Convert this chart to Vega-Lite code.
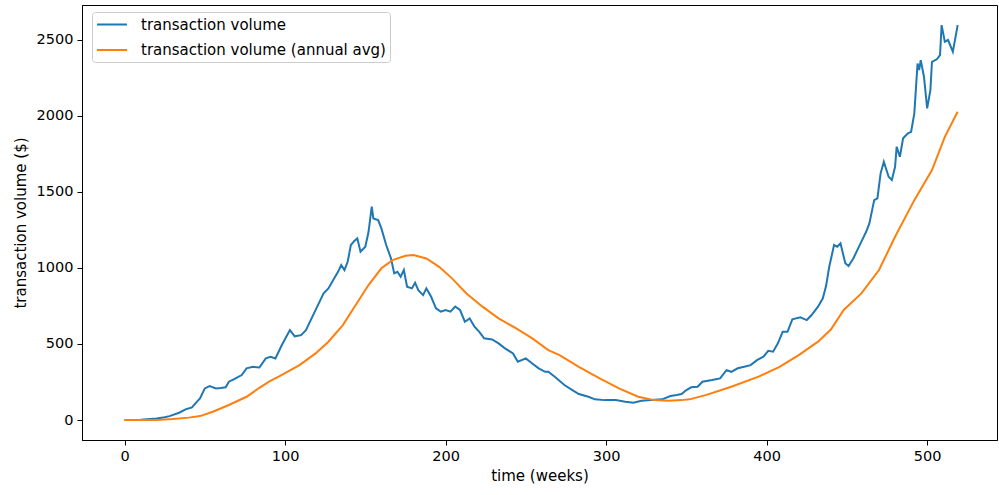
{
  "$schema": "https://vega.github.io/schema/vega-lite/v6.json",
  "autosize": "none",
  "width": 915,
  "height": 435,
  "padding": {"left": 82, "top": 5, "right": 2, "bottom": 55},
  "background": "white",
  "config": {
    "font": "DejaVu Sans",
    "view": {"stroke": "black", "strokeWidth": 1},
    "axis": {
      "grid": false,
      "domainColor": "black",
      "tickColor": "black",
      "tickSize": 5,
      "labelPadding": 4,
      "labelFontSize": 14.5,
      "labelColor": "black",
      "labelFont": "DejaVu Sans",
      "titleFontSize": 15,
      "titleFontWeight": "normal",
      "titleColor": "black",
      "titleFont": "DejaVu Sans"
    }
  },
  "datasets": {
    "raw": [
      {"week": 0, "volume": 0}, {"week": 10, "volume": 2}, {"week": 20, "volume": 10}, {"week": 25, "volume": 18},
      {"week": 28, "volume": 26}, {"week": 34, "volume": 48}, {"week": 38, "volume": 70}, {"week": 42, "volume": 83},
      {"week": 45, "volume": 120}, {"week": 47, "volume": 142}, {"week": 50, "volume": 208}, {"week": 53, "volume": 223},
      {"week": 57, "volume": 208}, {"week": 60, "volume": 210}, {"week": 63, "volume": 215}, {"week": 65, "volume": 252},
      {"week": 68, "volume": 267}, {"week": 73, "volume": 296}, {"week": 76, "volume": 340}, {"week": 80, "volume": 350},
      {"week": 84, "volume": 345}, {"week": 88, "volume": 405}, {"week": 91, "volume": 416}, {"week": 94, "volume": 405},
      {"week": 98, "volume": 493}, {"week": 103, "volume": 591}, {"week": 106, "volume": 550}, {"week": 110, "volume": 558},
      {"week": 113, "volume": 591}, {"week": 116, "volume": 657}, {"week": 118, "volume": 701}, {"week": 121, "volume": 767},
      {"week": 124, "volume": 832}, {"week": 127, "volume": 865}, {"week": 130, "volume": 920}, {"week": 133, "volume": 974},
      {"week": 135, "volume": 1018}, {"week": 137, "volume": 986}, {"week": 139, "volume": 1040}, {"week": 141, "volume": 1150},
      {"week": 143, "volume": 1175}, {"week": 145, "volume": 1194}, {"week": 147, "volume": 1106}, {"week": 150, "volume": 1139},
      {"week": 152, "volume": 1237}, {"week": 154, "volume": 1402}, {"week": 155, "volume": 1325}, {"week": 158, "volume": 1314},
      {"week": 160, "volume": 1259}, {"week": 163, "volume": 1150}, {"week": 166, "volume": 1062}, {"week": 168, "volume": 964},
      {"week": 170, "volume": 974}, {"week": 172, "volume": 942}, {"week": 174, "volume": 986}, {"week": 176, "volume": 876},
      {"week": 179, "volume": 865}, {"week": 181, "volume": 902}, {"week": 183, "volume": 854}, {"week": 186, "volume": 821},
      {"week": 188, "volume": 865}, {"week": 191, "volume": 810}, {"week": 194, "volume": 734}, {"week": 197, "volume": 712},
      {"week": 200, "volume": 723}, {"week": 203, "volume": 712}, {"week": 206, "volume": 745}, {"week": 209, "volume": 723},
      {"week": 212, "volume": 646}, {"week": 215, "volume": 668}, {"week": 218, "volume": 613}, {"week": 221, "volume": 580},
      {"week": 224, "volume": 537}, {"week": 229, "volume": 530}, {"week": 233, "volume": 504}, {"week": 237, "volume": 471},
      {"week": 242, "volume": 438}, {"week": 245, "volume": 383}, {"week": 250, "volume": 405}, {"week": 254, "volume": 372},
      {"week": 258, "volume": 340}, {"week": 262, "volume": 317}, {"week": 264, "volume": 317}, {"week": 268, "volume": 284},
      {"week": 274, "volume": 230}, {"week": 279, "volume": 197}, {"week": 283, "volume": 171}, {"week": 289, "volume": 153},
      {"week": 293, "volume": 136}, {"week": 299, "volume": 131}, {"week": 306, "volume": 131}, {"week": 312, "volume": 120},
      {"week": 317, "volume": 114}, {"week": 322, "volume": 127}, {"week": 328, "volume": 131}, {"week": 335, "volume": 136},
      {"week": 340, "volume": 158}, {"week": 344, "volume": 164}, {"week": 347, "volume": 171}, {"week": 350, "volume": 197},
      {"week": 353, "volume": 215}, {"week": 357, "volume": 219}, {"week": 360, "volume": 252}, {"week": 366, "volume": 263},
      {"week": 371, "volume": 274}, {"week": 375, "volume": 328}, {"week": 378, "volume": 317}, {"week": 382, "volume": 340},
      {"week": 386, "volume": 350}, {"week": 390, "volume": 361}, {"week": 394, "volume": 394}, {"week": 398, "volume": 416},
      {"week": 401, "volume": 455}, {"week": 404, "volume": 449}, {"week": 407, "volume": 504}, {"week": 410, "volume": 580},
      {"week": 413, "volume": 580}, {"week": 416, "volume": 662}, {"week": 421, "volume": 675}, {"week": 425, "volume": 657},
      {"week": 428, "volume": 690}, {"week": 432, "volume": 745}, {"week": 435, "volume": 800}, {"week": 437, "volume": 880},
      {"week": 439, "volume": 1007}, {"week": 442, "volume": 1150}, {"week": 444, "volume": 1139}, {"week": 446, "volume": 1161},
      {"week": 449, "volume": 1030}, {"week": 451, "volume": 1012}, {"week": 454, "volume": 1062}, {"week": 457, "volume": 1128},
      {"week": 460, "volume": 1194}, {"week": 462, "volume": 1237}, {"week": 464, "volume": 1292}, {"week": 467, "volume": 1445},
      {"week": 469, "volume": 1457}, {"week": 471, "volume": 1621}, {"week": 473, "volume": 1697}, {"week": 476, "volume": 1599},
      {"week": 478, "volume": 1577}, {"week": 480, "volume": 1664}, {"week": 481, "volume": 1796}, {"week": 483, "volume": 1730},
      {"week": 485, "volume": 1851}, {"week": 488, "volume": 1884}, {"week": 490, "volume": 1894}, {"week": 492, "volume": 2015},
      {"week": 494, "volume": 2343}, {"week": 495, "volume": 2300}, {"week": 496, "volume": 2365}, {"week": 498, "volume": 2256},
      {"week": 500, "volume": 2048}, {"week": 502, "volume": 2168}, {"week": 503, "volume": 2354}, {"week": 506, "volume": 2370},
      {"week": 508, "volume": 2398}, {"week": 509, "volume": 2595}, {"week": 511, "volume": 2486}, {"week": 513, "volume": 2497},
      {"week": 516, "volume": 2420}, {"week": 519, "volume": 2595}
    ],
    "avg": [
      {"week": 0, "volume": 0}, {"week": 20, "volume": 1}, {"week": 30, "volume": 7}, {"week": 40, "volume": 16},
      {"week": 47, "volume": 26}, {"week": 55, "volume": 55}, {"week": 65, "volume": 99}, {"week": 76, "volume": 153},
      {"week": 84, "volume": 212}, {"week": 90, "volume": 252}, {"week": 96, "volume": 285}, {"week": 109, "volume": 361},
      {"week": 119, "volume": 438}, {"week": 127, "volume": 515}, {"week": 136, "volume": 624}, {"week": 144, "volume": 756},
      {"week": 152, "volume": 887}, {"week": 160, "volume": 997}, {"week": 167, "volume": 1051}, {"week": 175, "volume": 1080},
      {"week": 180, "volume": 1084}, {"week": 188, "volume": 1062}, {"week": 196, "volume": 1007}, {"week": 204, "volume": 931},
      {"week": 213, "volume": 832}, {"week": 223, "volume": 745}, {"week": 233, "volume": 668}, {"week": 244, "volume": 602},
      {"week": 254, "volume": 537}, {"week": 264, "volume": 460}, {"week": 271, "volume": 427}, {"week": 283, "volume": 350},
      {"week": 296, "volume": 274}, {"week": 308, "volume": 208}, {"week": 320, "volume": 153}, {"week": 330, "volume": 131},
      {"week": 339, "volume": 127}, {"week": 347, "volume": 131}, {"week": 352, "volume": 136}, {"week": 362, "volume": 164},
      {"week": 378, "volume": 219}, {"week": 395, "volume": 285}, {"week": 408, "volume": 350}, {"week": 420, "volume": 427},
      {"week": 432, "volume": 515}, {"week": 440, "volume": 595}, {"week": 448, "volume": 723}, {"week": 459, "volume": 832},
      {"week": 470, "volume": 986}, {"week": 480, "volume": 1204}, {"week": 492, "volume": 1445}, {"week": 503, "volume": 1643},
      {"week": 511, "volume": 1861}, {"week": 519, "volume": 2026}
    ]
  },
  "encoding": {
    "x": {
      "field": "week", "type": "quantitative",
      "scale": {"domain": [-26.5, 543.5], "nice": false, "zero": false},
      "axis": {"values": [0, 100, 200, 300, 400, 500], "format": "d", "title": "time (weeks)", "titlePadding": 6}
    },
    "y": {
      "field": "volume", "type": "quantitative",
      "scale": {"domain": [-131, 2727], "nice": false, "zero": false},
      "axis": {"values": [0, 500, 1000, 1500, 2000, 2500], "format": "d", "title": "transaction volume ($)", "titlePadding": 8}
    }
  },
  "layer": [
    {
      "data": {"name": "raw"},
      "mark": {"type": "line", "strokeWidth": 2, "clip": true},
      "encoding": {
        "color": {
          "datum": "transaction volume",
          "scale": {
            "domain": ["transaction volume", "transaction volume (annual avg)"],
            "range": ["#1f77b4", "#ff7f0e"]
          },
          "legend": {
            "title": null,
            "orient": "none",
            "legendX": 10,
            "legendY": 7,
            "symbolType": "M-1,0H3",
            "symbolSize": 225,
            "symbolStrokeWidth": 2,
            "labelFontSize": 15,
            "labelFont": "DejaVu Sans",
            "labelColor": "black",
            "labelOffset": 28,
            "labelLimit": 0,
            "rowPadding": 8.5,
            "padding": 4,
            "fillColor": "rgba(255,255,255,0.8)",
            "strokeColor": "#cccccc",
            "cornerRadius": 3
          }
        }
      }
    },
    {
      "data": {"name": "avg"},
      "mark": {"type": "line", "strokeWidth": 2, "clip": true},
      "encoding": {
        "color": {"datum": "transaction volume (annual avg)"}
      }
    }
  ]
}
